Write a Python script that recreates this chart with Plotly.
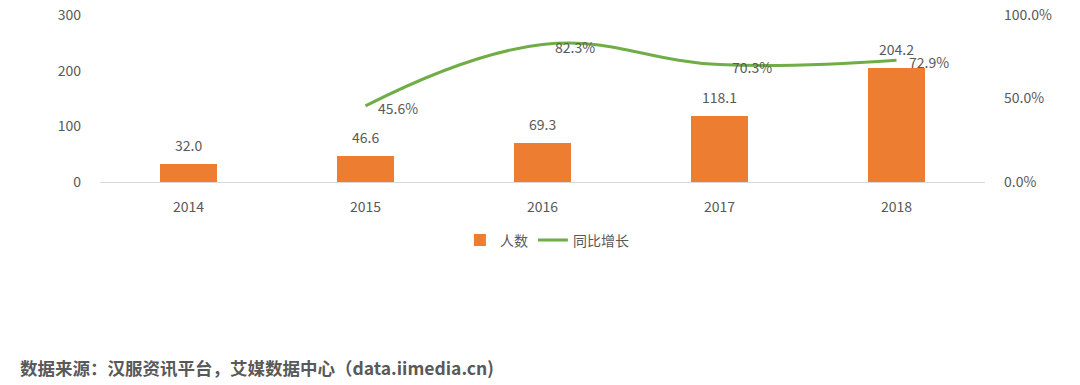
import plotly.graph_objects as go

years = ["2014", "2015", "2016", "2017", "2018"]
people = [32.0, 46.6, 69.3, 118.1, 204.2]
growth_years = ["2015", "2016", "2017", "2018"]
growth = [0.456, 0.823, 0.703, 0.729]
source_text = "数据来源：汉服资讯平台，艾媒数据中心（data.iimedia.cn)"

FONT = "Noto Sans CJK SC"
GRAY = "#595959"

fig = go.Figure()
fig.add_trace(go.Bar(
    x=years, y=people, name="人数",
    marker=dict(color="#ED7D31", line=dict(width=0)),
    width=0.32,
))
fig.add_trace(go.Scatter(
    x=growth_years, y=growth, name="同比增长", yaxis="y2",
    mode="lines",
    line=dict(color="#70AD47", width=3, shape="spline", smoothing=1.2),
    cliponaxis=False,
))

annotations = []
for x, v in zip(years, people):
    annotations.append(dict(x=years.index(x), y=v, xref="x", yref="y", text=f"{v:.1f}",
                            showarrow=False, yshift=19, yanchor="middle",
                            font=dict(family=FONT, size=14, color=GRAY)))
for x, v in zip(growth_years, growth):
    annotations.append(dict(x=years.index(x), y=v, xref="x", yref="y2", text=f"{v*100:.1f}%",
                            showarrow=False, xshift=10, yshift=-2, xanchor="left",
                            yanchor="middle",
                            font=dict(family=FONT, size=14, color=GRAY)))

L, T = 100, 15
annotations.append(dict(
    text=f"<b>{source_text}</b>", xref="paper", yref="paper",
    x=(18 - L) / 885, y=(182 - 368) / 167, xanchor="left", yanchor="middle",
    showarrow=False, font=dict(family=FONT, size=17.5, color=GRAY),
))

fig.update_layout(
    width=1080, height=385,
    margin=dict(l=L, r=95, t=T, b=203, autoexpand=False),
    plot_bgcolor="white", paper_bgcolor="white",
    font=dict(family=FONT, size=14, color=GRAY),
    bargap=0,
    xaxis=dict(type="category", range=[-0.5, 4.5], showgrid=False, showline=True,
               linecolor="#D9D9D9", linewidth=1, ticks="", ticklabelstandoff=12,
               automargin=False,
               tickfont=dict(family=FONT, size=14, color=GRAY)),
    yaxis=dict(range=[0, 300], dtick=100, showgrid=False, zeroline=False, showline=False,
               ticks="", ticklabelstandoff=18, automargin=False, ticklabeloverflow="allow",
               tickfont=dict(family=FONT, size=14, color=GRAY)),
    yaxis2=dict(range=[0, 1], dtick=0.5, tickformat=".1%", overlaying="y", side="right",
                showgrid=False, zeroline=False, showline=False, ticks="", ticklabelstandoff=18,
                automargin=False, ticklabeloverflow="allow",
                tickfont=dict(family=FONT, size=14, color=GRAY)),
    legend=dict(orientation="h", x=0.505, xanchor="center", y=-0.35, yanchor="middle",
                font=dict(family=FONT, size=14, color=GRAY), itemwidth=30,
                bgcolor="rgba(0,0,0,0)"),
    showlegend=True,
    annotations=annotations,
)

fig.write_html("out.html", config={"displayModeBar": False},
               post_script="document.body.style.margin='0px';document.body.style.overflow='hidden';")
